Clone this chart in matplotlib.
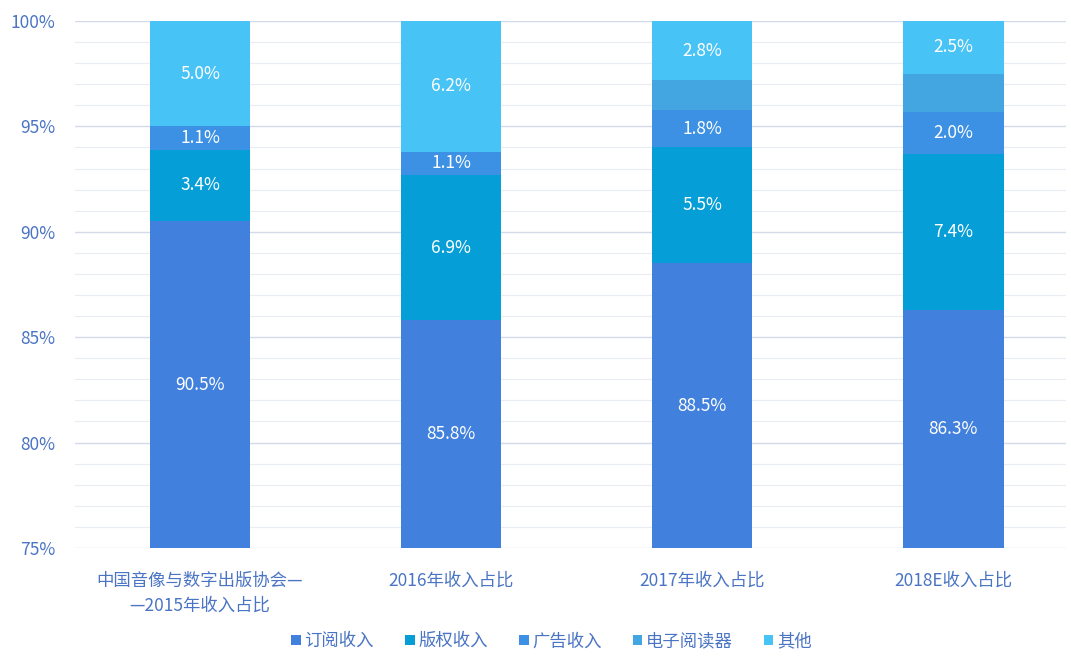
import matplotlib
matplotlib.use('Agg')
import matplotlib.pyplot as plt
import numpy as np

plt.rcParams['font.family'] = ['Noto Sans CJK SC', 'DejaVu Sans']

categories = ['中国音像与数字出版协会—\n—2015年收入占比', '2016年收入占比',
              '2017年收入占比', '2018E收入占比']
series = ['订阅收入', '版权收入', '广告收入', '电子阅读器', '其他']
subscription = [90.5, 85.8, 88.5, 86.3]
copyright_ = [3.4, 6.9, 5.5, 7.4]
advertising = [1.1, 1.1, 1.8, 2.0]
ereader = [0.0, 0.0, 1.4, 1.8]
other = [5.0, 6.2, 2.8, 2.5]
# which labels are printed on the bars
show_label = [True, True, True, False, True]

colors = ['#4180DC', '#069ED6', '#3D91E4', '#44A6E0', '#48C3F6']
tick_col = '#4A74C4'

data = [subscription, copyright_, advertising, ereader, other]

fig = plt.figure(figsize=(10.71, 6.57), dpi=100)
ax = fig.add_axes([0.0696, 0.166, 0.926, 0.802])

x = np.arange(len(categories))
bottom = np.zeros(len(categories))
for vals, name, col, lab in zip(data, series, colors, show_label):
    vals = np.array(vals)
    ax.bar(x, vals, 0.4, bottom=bottom, color=col, label=name, zorder=3)
    if lab:
        for xi, b, v in zip(x, bottom, vals):
            lo = max(b, 75)
            hi = b + v
            ax.text(xi, (lo + hi) / 2, '%.1f%%' % v, ha='center', va='center',
                    color='white', fontsize=12.5, zorder=4)
    bottom += vals

ax.set_ylim(75, 100)
ax.set_xlim(-0.5, 3.45)
ax.set_yticks(np.arange(75, 101, 5))
ax.set_yticklabels(['%d%%' % v for v in range(75, 101, 5)])
ax.set_yticks(np.arange(75, 101, 1), minor=True)
ax.yaxis.grid(True, which='major', color='#D3DAE8', lw=1.0, zorder=0)
ax.yaxis.grid(True, which='minor', color='#E8ECF3', lw=0.8, zorder=0)
ax.set_xticks(x)
ax.set_xticklabels(categories, linespacing=1.5)
ax.tick_params(axis='both', which='both', length=0, colors=tick_col, labelsize=12.5)
ax.tick_params(axis='y', pad=14)
ax.tick_params(axis='x', pad=17)
for s in ax.spines.values():
    s.set_visible(False)

leg = fig.legend(loc='center', bbox_to_anchor=(0.515, 0.024), ncol=5, frameon=False,
                 fontsize=12.5, handlelength=0.55, handleheight=0.55, handletextpad=0.2,
                 columnspacing=1.8)
for t in leg.get_texts():
    t.set_color(tick_col)

plt.savefig('out.png', dpi=100)
